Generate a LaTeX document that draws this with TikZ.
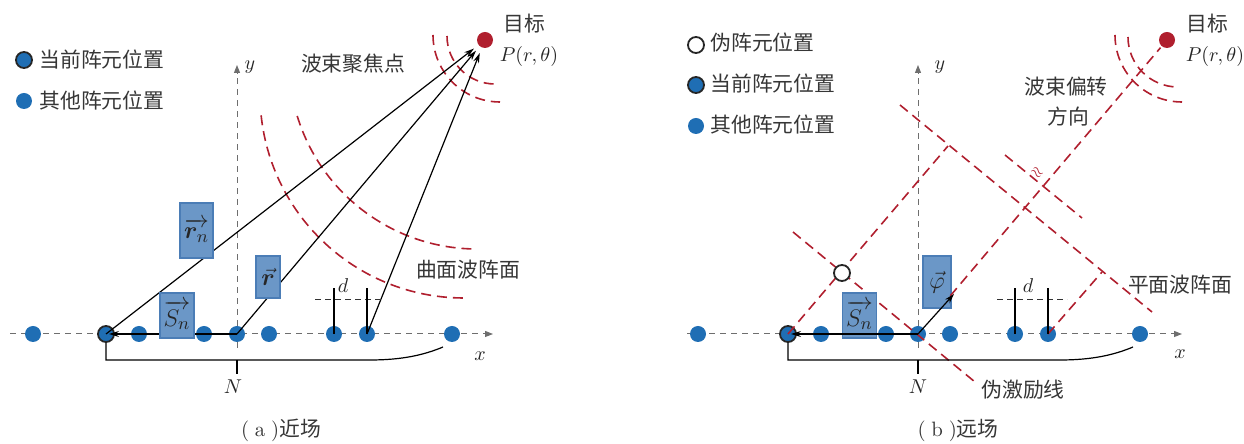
\documentclass[tikz,border=0pt]{standalone}
\usepackage{amsmath}
\usepackage{bm}
\usepackage{fontspec}
\newfontfamily\cjk{Noto Sans CJK SC}
\usetikzlibrary{arrows.meta}

\definecolor{elemblue}{HTML}{1F6EB4}
\definecolor{wavered}{HTML}{B01F2E}
\definecolor{boxfill}{HTML}{6B97C7}
\definecolor{boxline}{HTML}{4B7DB6}
\definecolor{axisgray}{HTML}{6E6E6E}
\definecolor{txtgray}{HTML}{363636}

\begin{document}
\begin{tikzpicture}[x=0.5pt,y=0.5pt,
    elem/.style={circle,fill=elemblue,minimum size=8pt,inner sep=0pt},
    cur elem/.style={elem,draw=black!85,line width=0.9pt},
    fake elem/.style={circle,fill=white,draw=black!85,line width=0.9pt,minimum size=8pt,inner sep=0pt},
    target/.style={circle,fill=wavered,minimum size=8pt,inner sep=0pt,outer sep=3pt},
    vec box/.style={rectangle,fill=boxfill,draw=boxline,line width=0.6pt,inner sep=0pt,
        text=black!85,font=\fontsize{13}{15}\selectfont},
    axis/.style={axisgray,line width=0.5pt,dash pattern=on 3pt off 2.5pt,-{Triangle[length=4pt,width=3pt]}},
    wave/.style={wavered,line width=0.8pt,dash pattern=on 5pt off 3pt},
    vec/.style={line width=0.6pt,-{Stealth[length=5pt,width=3pt]}},
    dim/.style={black!80,line width=0.5pt,dash pattern=on 3pt off 2pt},
    lbl/.style={font=\cjk\fontsize{10.4}{12}\selectfont,text=txtgray,inner sep=0pt},
    math lbl/.style={text=black!85,inner sep=0pt}
]
    \useasboundingbox (0,0) rectangle (1244,444);

    % (a) near field
    \coordinate (xa0) at (10,110);  \coordinate (xa1) at (493,110);
    \coordinate (ya0) at (237,96);  \coordinate (ya1) at (237,379);
    \draw[axis] (xa0) -- (xa1);
    \draw[axis] (ya0) -- (ya1);
    \foreach \x [count=\i] in {33,106,139,204,237,269,334,367,452}
        \node[elem] (a\i) at (\x,110) {};
    \node[cur elem] (curA) at (a2) {};
    \node[target] (tgtA) at (485,404) {};

    \draw[wave] (477,383) ++(197:188) arc[start angle=197,end angle=269,radius=188];
    \draw[wave] (464,350) ++(186:204) arc[start angle=186,end angle=271,radius=204];
    \draw[wave] (495,408) ++(180:48) arc[start angle=180,end angle=270,radius=48];
    \draw[wave] (500,409) ++(180:67) arc[start angle=180,end angle=270,radius=67];

    \draw[vec] (curA.center) -- (tgtA);
    \draw[vec] (a5.center) -- (tgtA);
    \draw[vec] (a8.center) -- (tgtA);
    \draw[vec,shorten >=1.5pt] (a5.center) -- (curA.center);

    \coordinate (dA0) at (315,144); \coordinate (dA1) at (383,144);
    \draw[dim] (dA0) -- (dA1);
    \draw[line width=0.6pt] (a7.center) -- ++(0,46);
    \draw[line width=0.6pt] (a8.center) -- ++(0,46);
    \node[math lbl] (dA) at (343,158) {$d$};

    \draw[line width=0.6pt] (curA.south) -- (106,84) -- (370,84) .. controls (402,84) and (424,89) .. (443,97);
    \draw[line width=0.6pt] (237,84) -- (237,70);
    \node[math lbl] (NA) at (233,57) {$N$};
    \node[math lbl] (xA) at (480,88) {$x$};
    \node[math lbl] (yA) at (250,377) {$y$};

    \node[vec box,minimum width=16.5pt,minimum height=27.5pt] (rnA) at (196.5,213.5) {$\overrightarrow{\bm r_n}$};
    \node[vec box,minimum width=12pt,minimum height=21pt] (rA) at (268,167) {$\vec{\bm r}$};
    \node[vec box,minimum width=17pt,minimum height=22.5pt] (snA) at (177,128.5) {$\overrightarrow{S_n}$};

    \node[lbl] (focusA) at (353,380) {波束聚焦点};
    \node[lbl] (curvedA) at (468,174) {曲面波阵面};
    \node[lbl] (goalA) at (524,420) {目标};
    \node[math lbl] (PA) at (529,387) {$P(r,\theta)$};
    \node[cur elem] (lgA1) at (24,384) {};
    \node[lbl,anchor=west] (lgtA1) at (39,384) {当前阵元位置};
    \node[elem] (lgA2) at (24,343) {};
    \node[lbl,anchor=west] (lgtA2) at (39,343) {其他阵元位置};
    \node[lbl] (capA) at (281,14) {\textrm{(\;a\;)}近场};

    % (b) far field
    \coordinate (xb0) at (687,110);  \coordinate (xb1) at (1182,110);
    \coordinate (yb0) at (918,96);   \coordinate (yb1) at (918,379);
    \draw[axis] (xb0) -- (xb1);
    \draw[axis] (yb0) -- (yb1);
    \foreach \x [count=\i] in {698,788,821,886,918,950,1015,1048,1140}
        \node[elem] (b\i) at (\x,110) {};
    \node[cur elem] (curB) at (b2) {};
    \node[target] (tgtB) at (1167,404) {};

    \coordinate (cB1) at (948,298);   \coordinate (cB2) at (1102,172);
    \coordinate (wB0) at (900,339);   \coordinate (wB1) at (1152,132);
    \coordinate (wC0) at (1005,289);  \coordinate (wC1) at (1082,226);
    \coordinate (pB0) at (793,212);   \coordinate (pB1) at (975,62);
    \draw[wave] (curB.center) -- (cB1);
    \draw[wave] (b8.center) -- (cB2);
    \draw[wave] (wB0) -- (wB1);
    \draw[wave] (wC0) -- (wC1);
    \draw[wave] (pB0) -- (pB1);
    \draw[wave] (1178,407) ++(180:50) arc[start angle=180,end angle=270,radius=50];
    \draw[wave] (1182,409) ++(180:67) arc[start angle=180,end angle=270,radius=67];
    \node[fake elem] (fakeB) at (842,171) {};
    \node[text=wavered,rotate=-40,inner sep=0pt,font=\scriptsize] (apxB) at (1037,271) {$\approx$};

    \coordinate (dB0) at (997,144); \coordinate (dB1) at (1067,144);
    \draw[dim] (dB0) -- (dB1);
    \draw[line width=0.6pt] (b7.center) -- ++(0,46);
    \draw[line width=0.6pt] (b8.center) -- ++(0,46);
    \node[math lbl] (dB) at (1028,158) {$d$};

    \draw[line width=0.6pt] (curB.south) -- (788,84) -- (1060,84) .. controls (1092,84) and (1114,89) .. (1133,97);
    \draw[line width=0.6pt] (918,84) -- (918,70);
    \node[math lbl] (NB) at (918,57) {$N$};
    \node[math lbl] (xB) at (1180,90) {$x$};
    \node[math lbl] (yB) at (940,377) {$y$};

    \node[vec box,minimum width=17pt,minimum height=22.5pt] (snB) at (859.5,128.5) {$\overrightarrow{S_n}$};
    \node[vec box,minimum width=14pt,minimum height=26pt] (phB) at (937,162) {$\vec{\varphi}$};

    \draw[vec,shorten >=1.5pt] (b5.center) -- (curB.center);
    \draw[wave,shorten <=25pt,shorten >=-2pt] (b5.center) -- (tgtB);
    \coordinate (phiB) at (954,150);
    \draw[vec] (b5.center) -- (phiB);

    \node[lbl] (goalB) at (1207,420) {目标};
    \node[math lbl] (PB) at (1215,387) {$P(r,\theta)$};
    \node[lbl] (steerB1) at (1066,357) {波束偏转};
    \node[lbl] (steerB2) at (1068,327) {方向};
    \node[lbl] (planeB) at (1180,159) {平面波阵面};
    \node[lbl] (pseudoB) at (1023,54) {伪激励线};
    \node[fake elem] (lgB0) at (696,399) {};
    \node[lbl,anchor=west] (lgtB0) at (710,401) {伪阵元位置};
    \node[cur elem] (lgB1) at (696,359) {};
    \node[lbl,anchor=west] (lgtB1) at (710,360) {当前阵元位置};
    \node[elem] (lgB2) at (696,318) {};
    \node[lbl,anchor=west] (lgtB2) at (710,319) {其他阵元位置};
    \node[lbl] (capB) at (958,14) {\textrm{(\;b\;)}远场};
\end{tikzpicture}
\end{document}
